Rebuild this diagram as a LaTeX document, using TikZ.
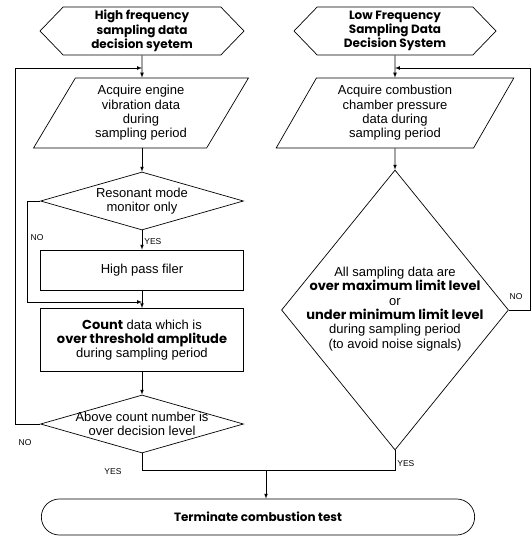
\documentclass[tikz,border=0pt]{standalone}
\usepackage{fontspec}
\setmainfont{Liberation Sans}
\newfontfamily\geofont{Poppins}
\usetikzlibrary{arrows}
\usetikzlibrary{positioning}
\usetikzlibrary{shapes.geometric,shapes.misc,shapes.symbols}

\newcommand{\hv}[1]{{\geofont\bfseries #1}}

\tikzset{
  title/.style={draw, signal, signal to=west and east, signal pointer angle=92,
    minimum height=48pt, inner sep=0pt, align=center,
    font=\geofont\bfseries\fontsize{12}{14.3}\selectfont},
  io/.style={draw, trapezium, trapezium left angle=62, trapezium right angle=118,
    trapezium stretches=true, minimum height=70pt, inner sep=0pt, align=center},
  dec/.style={draw, diamond, inner sep=0pt},
  proc/.style={draw, rectangle, minimum width=203pt, align=center},
  term/.style={draw, rounded rectangle, minimum width=440pt, minimum height=36pt,
    font=\geofont\bfseries\fontsize{12}{14.3}\selectfont},
  txt/.style={align=center, inner sep=0pt},
  yn/.style={font=\fontsize{8.5}{9}\selectfont, inner sep=1pt}
}

\begin{document}
\begin{tikzpicture}[x=1pt, y=-1pt, line width=0.7pt, >=latex,
  every node/.append style={font=\fontsize{13}{14.3}\selectfont}]
\useasboundingbox (0,0) rectangle (532,538);

% high frequency branch
\node[title, minimum width=204pt] (hi) at (142,31) {High frequency\\sampling data\\decision syetem};
\node[io, minimum width=215pt] (acqv) at (141,113) {Acquire engine\\vibration data\\during\\sampling period};
\node[dec, minimum width=203pt, minimum height=58pt] (res) at (142,201) {};
\node[txt] (restxt) at (res) {Resonant mode\\monitor only};
\node[proc, minimum height=40pt] (hpf) at (142,270) {High pass filer};
\node[proc, minimum height=63pt] (cnt) at (142,340) {\hv{Count} data which is\\\hv{over threshold amplitude}\\during sampling period};
\node[dec, minimum width=203pt, minimum height=58pt] (lvl) at (142,424) {};
\node[txt] (lvltxt) at (lvl) {Above count number is\\over decision level};

% low frequency branch
\node[title, minimum width=202pt] (lo) at (395,31) {Low Frequency\\Sampling Data\\Decision System};
\node[io, minimum width=238pt] (acqp) at (395,113) {Acquire combustion\\chamber pressure\\data during\\sampling period};
\node[dec, minimum width=227pt, minimum height=280pt] (lim) at (395,310) {};
\node[txt] (limtxt) at (395,309) {All sampling data are\\\hv{over maximum limit level}\\or\\\hv{under minimum limit level}\\during sampling period\\(to avoid noise signals)};

\node[term] (stop) at (258,517) {Terminate combustion test};

\coordinate (lback) at (142,68);
\coordinate (rback) at (395,68);
\coordinate (merge) at (142,302);
\coordinate (join) at (266,470);

% flow
\draw[->] (hi) -- (hi |- acqv.north);
\draw[->] (acqv.south -| res) -- (res);
\draw[->] (res) -- (hpf);
\draw[->] (res.west) -- ++(-13,0) |- (merge);
\draw[->] (hpf) -- (cnt);
\draw[->] (cnt) -- (lvl);
\draw[->] (lvl.west) -- ++(-25,0) |- (lback);
\draw (lvl.south) |- (lim.south |- join) -- (lim.south);
\draw[->] (join) -- (join |- stop.north);

\draw[->] (lo) -- (acqp);
\draw[->] (acqp) -- (lim);
\draw[->] (lim.east) -- ++(21,0) |- (rback);

% yes / no
\node[yn, anchor=west] (yes1) at (143,242) {YES};
\node[yn] (no1) at (37,238) {NO};
\node[yn] (no2) at (25,443) {NO};
\node[yn] (yes2) at (113,472) {YES};
\node[yn, anchor=west] (yes3) at (396,464) {YES};
\node[yn] (no3) at (516,297) {NO};
\end{tikzpicture}
\end{document}
